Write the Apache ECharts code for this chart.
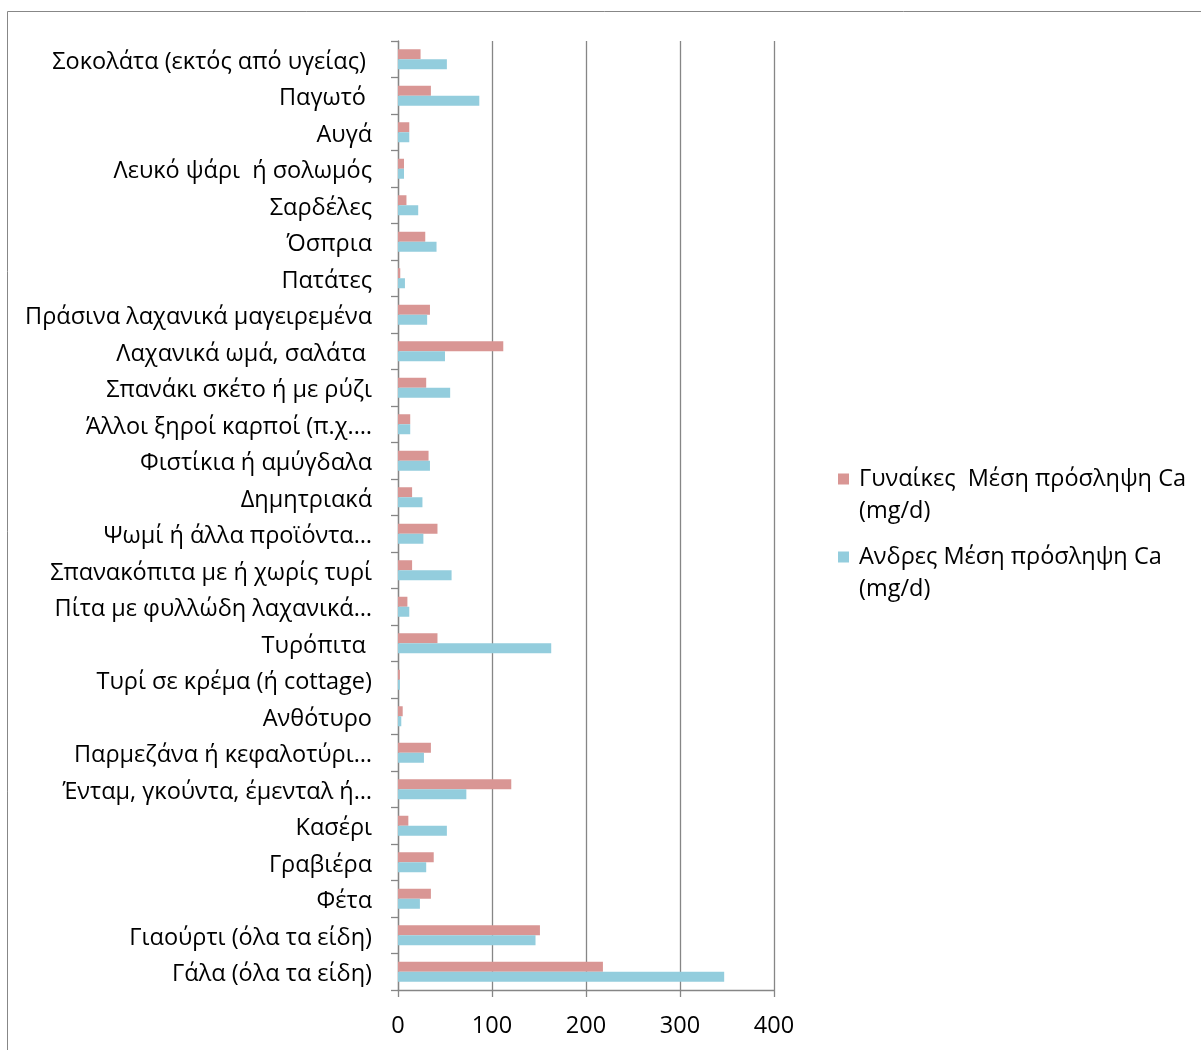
<!DOCTYPE html>
<html>
<head>
<meta charset="utf-8">
<script src="https://cdn.jsdelivr.net/npm/echarts@6/dist/echarts.min.js"></script>
<style>
  html, body { margin: 0; padding: 0; background: #fff; }
  #chart { width: 1201px; height: 1050px; }
</style>
</head>
<body>
<div id="chart"></div>
<script>
// Food sources, listed top to bottom as shown on the chart
const foods = [
  'Σοκολάτα (εκτός από υγείας) ',
  'Παγωτό ',
  'Αυγά',
  'Λευκό ψάρι  ή σολωμός',
  'Σαρδέλες',
  'Όσπρια',
  'Πατάτες',
  'Πράσινα λαχανικά μαγειρεμένα',
  'Λαχανικά ωμά, σαλάτα ',
  'Σπανάκι σκέτο ή με ρύζι',
  'Άλλοι ξηροί καρποί (π.χ.…',
  'Φιστίκια ή αμύγδαλα',
  'Δημητριακά',
  'Ψωμί ή άλλα προϊόντα…',
  'Σπανακόπιτα με ή χωρίς τυρί',
  'Πίτα με φυλλώδη λαχανικά…',
  'Τυρόπιτα ',
  'Τυρί σε κρέμα (ή cottage)',
  'Ανθότυρο',
  'Παρμεζάνα ή κεφαλοτύρι…',
  'Ένταμ, γκούντα, έμενταλ ή…',
  'Κασέρι',
  'Γραβιέρα',
  'Φέτα',
  'Γιαούρτι (όλα τα είδη)',
  'Γάλα (όλα τα είδη)'
];

// Mean calcium intake (mg/d) per food source
const women = [24, 35, 12, 6.4, 9, 29, 2.4, 34, 112, 30, 13, 32.5, 15, 42, 15, 10, 42, 2, 5, 35, 120.5, 11, 38, 35, 151, 218];
const men   = [52, 86.5, 12, 6.4, 21.5, 41, 7.4, 31, 50, 55.5, 13, 34, 26, 27, 57, 12, 163, 2, 3.5, 27.6, 72.7, 52, 30, 23.3, 146.3, 347];

const seriesNames = [
  'Γυναίκες  Μέση πρόσληψη Ca\n(mg/d)',
  'Ανδρες Μέση πρόσληψη Ca\n(mg/d)'
];
const seriesColors = ['#D99694', '#93CDDD'];

const xMin = 0, xMax = 400, xStep = 100;

const FONT = '"Open Sans", "Noto Sans", sans-serif';
const FONT_SIZE = 23.5;
const AXIS_GRAY = '#868686';

const chart = echarts.init(document.getElementById('chart'), null, { renderer: 'canvas' });

chart.setOption({
  backgroundColor: '#ffffff',
  animation: false,
  textStyle: { fontFamily: FONT },
  graphic: [{
    type: 'rect',
    silent: true,
    shape: { x: 7.5, y: 11.5, width: 1400, height: 1200 },
    style: { fill: 'none', stroke: '#878787', lineWidth: 1 }
  }],
  grid: { left: 398, right: 427, top: 41, bottom: 60, containLabel: false },
  legend: {
    orient: 'vertical',
    left: 838,
    top: 463,
    padding: 0,
    itemGap: 14,
    itemWidth: 16,
    itemHeight: 43,
    // square marker aligned with the first text line, with extra room before the text
    icon: 'path://M0,0L11,0L11,11L0,11Z M16,43L16.001,43',
    textStyle: { fontSize: FONT_SIZE, lineHeight: 32, color: '#000', fontFamily: FONT },
    data: seriesNames
  },
  xAxis: {
    type: 'value',
    min: xMin,
    max: xMax,
    interval: xStep,
    axisLine: { show: true, lineStyle: { color: AXIS_GRAY, width: 1.3 } },
    axisTick: { show: true, length: 7, lineStyle: { color: AXIS_GRAY, width: 1.3 } },
    axisLabel: { fontSize: FONT_SIZE, color: '#000', margin: 24, fontFamily: FONT },
    splitLine: { show: true, lineStyle: { color: AXIS_GRAY, width: 1.3 } }
  },
  yAxis: {
    type: 'category',
    inverse: true,
    data: foods,
    axisLine: { show: true, lineStyle: { color: AXIS_GRAY, width: 1.3 } },
    axisTick: { show: true, length: 7, alignWithLabel: false, lineStyle: { color: AXIS_GRAY, width: 1.3 } },
    axisLabel: {
      color: '#000',
      margin: 26,
      formatter: (name) => '{t|' + name + '}',
      rich: {
        t: { fontSize: FONT_SIZE, color: '#000', fontFamily: FONT, padding: [6, 0, 0, 0] }
      }
    },
    splitLine: { show: false }
  },
  series: [
    {
      name: seriesNames[0],
      type: 'bar',
      data: women,
      barWidth: 10,
      barGap: '0%',
      itemStyle: { color: seriesColors[0] }
    },
    {
      name: seriesNames[1],
      type: 'bar',
      data: men,
      barWidth: 10,
      barGap: '0%',
      itemStyle: { color: seriesColors[1] }
    }
  ]
});
</script>
</body>
</html>
